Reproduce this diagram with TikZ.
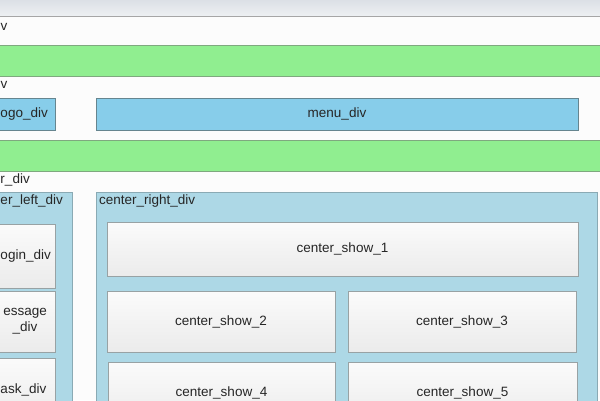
\documentclass[tikz,border=0pt]{standalone}
\usepackage{fontspec}
\setmainfont{Liberation Sans}
\usetikzlibrary{shadows}

\definecolor{barGreen}{HTML}{90EE90}
\definecolor{barLine}{HTML}{7FA87F}
\definecolor{navBlue}{HTML}{87CDEA}
\definecolor{navLine}{HTML}{66858F}
\definecolor{divBlue}{HTML}{ADD8E6}
\definecolor{divLine}{HTML}{8AAAB4}
\definecolor{showTop}{HTML}{FBFBFB}
\definecolor{showBot}{HTML}{EBEBEB}
\definecolor{showLine}{HTML}{98A2A4}
\definecolor{stripTop}{HTML}{DCE0E6}
\definecolor{stripBot}{HTML}{EEF0F3}

\begin{document}
\begin{tikzpicture}[x=1pt,y=-1pt,
    every node/.style={font=\fontsize{13.5}{16}\selectfont,inner sep=0pt,text=black!85},
    bar/.style={rectangle,draw=barLine,fill=barGreen,line width=1pt,minimum width=620pt,minimum height=31pt},
    navbox/.style={rectangle,draw=navLine,fill=navBlue,line width=1pt,minimum height=32pt},
    divbox/.style={rectangle,draw=divLine,fill=divBlue,line width=1pt},
    showbox/.style={rectangle,draw=showLine,line width=.8pt,top color=showTop,bottom color=showBot,
      drop shadow={shadow xshift=1pt,shadow yshift=-1.2pt,opacity=.25}},
    lbl/.style={anchor=west}]

  \useasboundingbox (0,0) rectangle (600,400);
  \clip (0,0) rectangle (600,400);

  % page and window strip
  \fill[white!98!gray] (0,0) rectangle (600,400);
  \shade[top color=stripTop,bottom color=stripBot] (0,0) rectangle (600,16.5);
  \draw[gray!70,line width=.8pt] (0,16.5) -- (600,16.5);

  % outer rows
  \node[lbl] (outerlbl) at (0.5,27) {v};
  \node[bar] (bar1) at (300,61) {};
  \node[lbl] (headlbl) at (0.5,85) {v};
  \node[navbox,minimum width=74pt] (logo) at (18,114) {};
  \node[lbl] (logolbl) at (0.3,114) {ogo\_div};
  \node[navbox,minimum width=482pt] (menu) at (337,114) {menu\_div};
  \node[bar] (bar2) at (300,156) {};
  \node[lbl] (centerlbl) at (0.3,180) {r\_div};

  % center columns
  \node[divbox,minimum width=92pt,minimum height=228pt] (left) at (26,306) {};
  \node[divbox,minimum width=501pt,minimum height=228pt] (right) at (346.5,306) {};
  \node[lbl] (leftlbl) at (0.3,201) {er\_left\_div};
  \node[lbl] (rightlbl) at (99,201) {center\_right\_div};

  \begin{scope}[every node/.append style={showbox}]
    \node[minimum width=74pt,minimum height=64pt] (login)   at (18,256)   {};
    \node[minimum width=74pt,minimum height=61pt] (message) at (18,321.5) {};
    \node[minimum width=74pt,minimum height=62pt] (task)    at (18,389)   {};

    \node[minimum width=471pt,minimum height=54pt] (show1) at (342.5,249)   {center\_show\_1};
    \node[minimum width=228pt,minimum height=61pt] (show2) at (221,321.5)   {center\_show\_2};
    \node[minimum width=228pt,minimum height=61pt] (show3) at (462,321.5)   {center\_show\_3};
    \node[minimum width=227pt,minimum height=62pt] (show4) at (221.5,393)   {center\_show\_4};
    \node[minimum width=229pt,minimum height=62pt] (show5) at (462.5,393)   {center\_show\_5};
  \end{scope}

  \node[lbl] (loginlbl) at (0.3,256) {ogin\_div};
  \node[anchor=east,align=center] (messagelbl) at (47,321.5) {essage\\\_div};
  \node[lbl] (tasklbl) at (0.3,390) {ask\_div};

\end{tikzpicture}
\end{document}
